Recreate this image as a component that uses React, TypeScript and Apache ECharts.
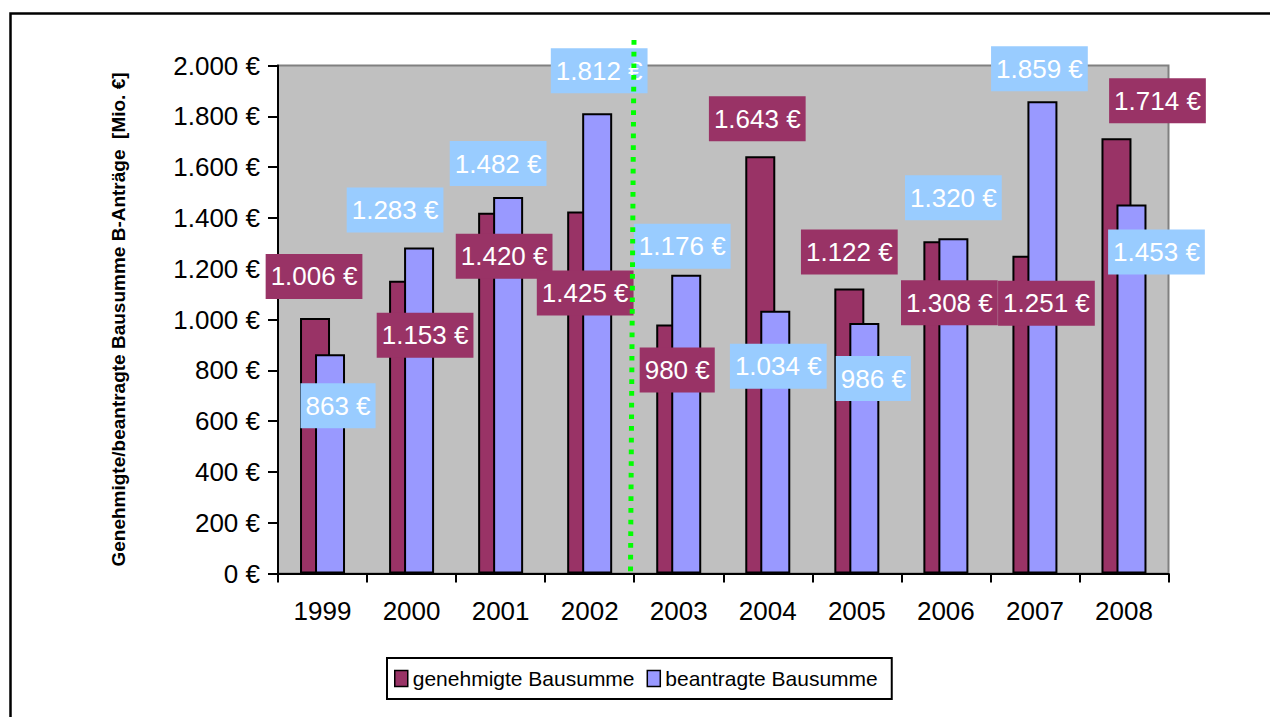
import React, { useEffect, useRef } from "react";
import * as echarts from "echarts";

const years = ["1999", "2000", "2001", "2002", "2003", "2004", "2005", "2006", "2007", "2008"];
const genehmigte = [1006, 1153, 1420, 1425, 980, 1643, 1122, 1308, 1251, 1714];
const beantragte = [863, 1283, 1482, 1812, 1176, 1034, 986, 1320, 1859, 1453];
const seriesNames = ["genehmigte Bausumme", "beantragte Bausumme"];
const yAxisTitle = "Genehmigte/beantragte Bausumme B-Anträge  [Mio. €]";

// label placement offsets (style only, not data)
const genehmigteLabelOffsets = [[-1, -19], [21, 77], [11, 66], [3, 104], [6, 68], [-3, -15], [0, -14], [11, 84], [19, 70], [41, -15]];
const beantragteLabelOffsets = [[8, 74], [-24, -15], [-10, -11], [2, -20], [-4, -6], [3, 78], [9, 78], [0, -18], [-3, -10], [25, 70]];

const FONT = "'Liberation Sans', Arial, sans-serif";

const fmt = (v: number) => String(v).replace(/\B(?=(\d{3})+(?!\d))/g, ".") + " €";

export default function App() {
  const ref = useRef<HTMLDivElement>(null);
  useEffect(() => {
    if (!ref.current) return;
    const chart = echarts.init(ref.current, undefined, { renderer: "svg" });
    const labelBase = {
      show: true,
      position: "top",
      distance: 0,
      color: "#ffffff",
      fontSize: 26,
      fontFamily: FONT,
      lineHeight: 31,
      padding: [7, 5],
      formatter: (p: any) => fmt(p.value),
    };
    const makeData = (vals: number[], offs: number[][], bg: string) =>
      vals.map((v, i) => ({
        value: v,
        label: { ...labelBase, backgroundColor: bg, offset: offs[i] },
      }));
    chart.setOption({
      animation: false,
      textStyle: { fontFamily: FONT },
      grid: {
        left: 278,
        top: 65.5,
        right: 101.5,
        bottom: 143.5,
        show: true,
        backgroundColor: "#c0c0c0",
        borderColor: "#808080",
        borderWidth: 2,
        outerBoundsMode: "none",
        containLabel: false,
      },
      legend: {
        data: seriesNames,
        left: 387,
        top: 658,
        orient: "horizontal",
        padding: [10, 14, 10, 7],
        itemGap: 12,
        itemWidth: 13,
        itemHeight: 16,
        borderColor: "#000",
        borderWidth: 2,
        backgroundColor: "#fff",
        icon: "rect",
        itemStyle: { borderColor: "#000", borderWidth: 1.5 },
        textStyle: { fontSize: 21, color: "#000", fontFamily: FONT },
      },
      xAxis: {
        type: "category",
        data: years,
        axisLine: { show: true, lineStyle: { color: "#000", width: 2 } },
        axisTick: { show: true, length: 9, lineStyle: { color: "#000", width: 2 } },
        axisLabel: { color: "#000", fontSize: 26, fontFamily: FONT, margin: 24 },
        splitLine: { show: false },
      },
      yAxis: {
        type: "value",
        min: 0,
        max: 2000,
        interval: 200,
        name: yAxisTitle,
        nameLocation: "middle",
        nameRotate: 90,
        nameGap: 150,
        nameTextStyle: { fontSize: 19, fontWeight: "bold", color: "#000", fontFamily: FONT },
        axisLine: { show: true, lineStyle: { color: "#000", width: 2 } },
        axisTick: { show: true, length: 10, lineStyle: { color: "#000", width: 2 } },
        axisLabel: { color: "#000", fontSize: 26, fontFamily: FONT, margin: 18, formatter: (v: number) => fmt(v) },
        splitLine: { show: false },
      },
      series: [
        {
          name: seriesNames[0],
          type: "bar",
          barWidth: 30,
          barGap: "-50%",
          itemStyle: { color: "#993366", borderColor: "#000", borderWidth: 2 },
          data: makeData(genehmigte, genehmigteLabelOffsets, "#993366"),
        },
        {
          name: seriesNames[1],
          type: "bar",
          barWidth: 30,
          barGap: "-50%",
          itemStyle: { color: "#9999ff", borderColor: "#000", borderWidth: 2 },
          data: makeData(beantragte, beantragteLabelOffsets, "#99ccff"),
        },
      ],
      graphic: [
        {
          type: "rect",
          z: 100,
          silent: true,
          shape: { x: 10.5, y: 13.5, width: 1300, height: 760 },
          style: { fill: "none", stroke: "#000", lineWidth: 2.5 },
        },
        {
          type: "line",
          z: 200,
          silent: true,
          shape: { x1: 634, y1: 40, x2: 630.5, y2: 572 },
          style: { stroke: "#00ff00", lineWidth: 5, lineDash: [4.7, 7] },
        },
      ],
    });
    return () => chart.dispose();
  }, []);
  return (
    <div
      ref={ref}
      style={{ position: "fixed", left: 0, top: 0, width: 1270, height: 717, background: "#fff" }}
    />
  );
}
